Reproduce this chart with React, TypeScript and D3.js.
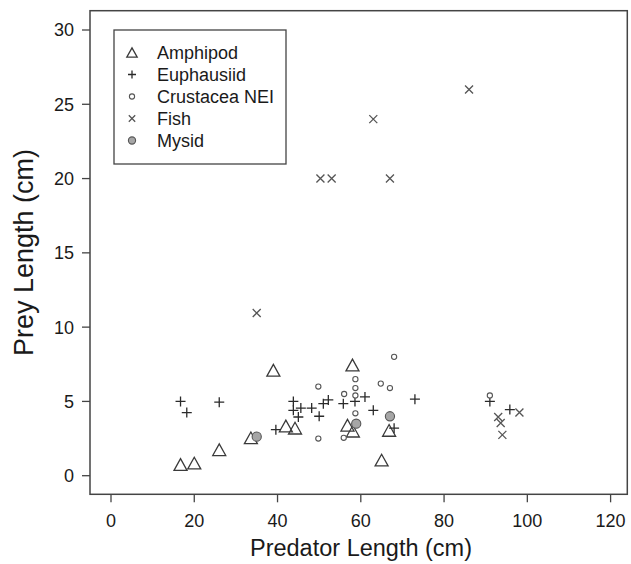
import React from "react";
import * as d3 from "d3";

const amphipod: [number, number][] = [
  [16.7, 0.75], [20, 0.85], [26, 1.75], [33.6, 2.55], [39, 7.1], [42, 3.35],
  [44.2, 3.2], [56.8, 3.4], [58.1, 3.0], [58, 7.45], [65, 1.05], [66.8, 3.05],
];
const euphausiid: [number, number][] = [
  [16.7, 5.0], [18.2, 4.25], [26, 4.95], [39.6, 3.1], [43.8, 5.0], [43.8, 4.4],
  [45.6, 4.55], [45, 3.95], [48.2, 4.55], [50, 4.0], [51, 4.85], [52.2, 5.1],
  [55.8, 4.85], [58.6, 5.0], [61, 5.3], [63, 4.4], [68, 3.2], [73, 5.15],
  [91, 5.0], [95.8, 4.45],
];
const crustacea: [number, number][] = [
  [49.8, 6.0], [49.8, 2.5], [56, 5.5], [55.9, 2.55], [58.7, 6.5], [58.7, 5.9],
  [58.7, 5.4], [58.7, 4.2], [64.8, 6.2], [67, 5.9], [68, 8.0], [91, 5.4],
];
const fish: [number, number][] = [
  [86, 26], [63, 24], [50.3, 20], [53, 20], [67, 20], [35, 10.95],
  [93, 3.95], [93.6, 3.55], [94, 2.75], [98.1, 4.25],
];
const mysid: [number, number][] = [[35, 2.63], [58.9, 3.5], [67, 4.0]];

const legendLabels = ["Amphipod", "Euphausiid", "Crustacea NEI", "Fish", "Mysid"];
const xTicks = [0, 20, 40, 60, 80, 100, 120];
const yTicks = [0, 5, 10, 15, 20, 25, 30];

const W = 631, H = 564;
const frame = { left: 90, top: 10.7, right: 627.3, bottom: 494.3 };
const FONT = "'Liberation Sans', Arial, sans-serif";

const x = d3.scaleLinear().domain([0, 120]).range([111, 610.6]);
const y = d3.scaleLinear().domain([0, 30]).range([475.7, 30]);

function Marker({ kind, cx, cy, small }: { kind: string; cx: number; cy: number; small?: boolean }) {
  const k = small ? 0.8 : 1;
  if (kind === "Amphipod") {
    const s = 13 * k;
    const h = s * 0.9;
    const p = `M${cx - s / 2},${cy + h / 2}L${cx + s / 2},${cy + h / 2}L${cx},${cy - h / 2}Z`;
    return <path d={p} fill="none" stroke="#3a3a3a" strokeWidth={1.3} />;
  }
  if (kind === "Euphausiid") {
    const r = 5 * k;
    return (
      <path d={`M${cx - r},${cy}H${cx + r}M${cx},${cy - r}V${cy + r}`} stroke="#2a2a2a" strokeWidth={1.3} fill="none" />
    );
  }
  if (kind === "Crustacea NEI") {
    return <circle cx={cx} cy={cy} r={2.6} fill="white" stroke="#555" strokeWidth={1.1} />;
  }
  if (kind === "Fish") {
    const r = 4 * k;
    return (
      <path d={`M${cx - r},${cy - r}L${cx + r},${cy + r}M${cx - r},${cy + r}L${cx + r},${cy - r}`} stroke="#555" strokeWidth={1.3} fill="none" />
    );
  }
  return <circle cx={cx} cy={cy} r={small ? 3.6 : 4.6} fill="#a6a6a6" stroke="#555" strokeWidth={1.1} />;
}

export default function App() {
  const series: [string, [number, number][]][] = [
    ["Amphipod", amphipod],
    ["Euphausiid", euphausiid],
    ["Crustacea NEI", crustacea],
    ["Fish", fish],
    ["Mysid", mysid],
  ];
  return (
    <svg width={W} height={H} style={{ position: "absolute", left: 0, top: 0, background: "white" }} fontFamily={FONT}>
      <rect x={0} y={0} width={W} height={H} fill="white" />
      <rect x={frame.left} y={frame.top} width={frame.right - frame.left} height={frame.bottom - frame.top} fill="none" stroke="#444" strokeWidth={1.5} />
      {xTicks.map((t) => (
        <g key={"x" + t}>
          <line x1={x(t)} x2={x(t)} y1={frame.bottom} y2={frame.bottom + 8} stroke="#444" strokeWidth={1.3} />
          <text x={x(t)} y={527} textAnchor="middle" fontSize={18} fill="#1a1a1a">{t}</text>
        </g>
      ))}
      {yTicks.map((t) => (
        <g key={"y" + t}>
          <line x1={frame.left - 8} x2={frame.left} y1={y(t)} y2={y(t)} stroke="#444" strokeWidth={1.3} />
          <text x={74} y={y(t)} dy="0.36em" textAnchor="end" fontSize={18} fill="#1a1a1a">{t}</text>
        </g>
      ))}
      <text x={361} y={556} textAnchor="middle" fontSize={23.5} fill="#1a1a1a">Predator Length (cm)</text>
      <text transform={`translate(33,${(frame.top + frame.bottom) / 2}) rotate(-90)`} textAnchor="middle" fontSize={27} fill="#1a1a1a">Prey Length (cm)</text>
      {series.map(([name, pts]) => (
        <g key={name}>
          {pts.map((p, i) => (
            <Marker key={i} kind={name} cx={x(p[0])} cy={y(p[1])} />
          ))}
        </g>
      ))}
      <rect x={114} y={30} width={172} height={134} fill="white" stroke="#444" strokeWidth={1.3} />
      {legendLabels.map((l, i) => (
        <g key={l}>
          <Marker kind={l} cx={132} cy={52.5 + 22 * i} small />
          <text x={157} y={52.5 + 22 * i} dy="0.36em" fontSize={18} fill="#1a1a1a">{l}</text>
        </g>
      ))}
    </svg>
  );
}
